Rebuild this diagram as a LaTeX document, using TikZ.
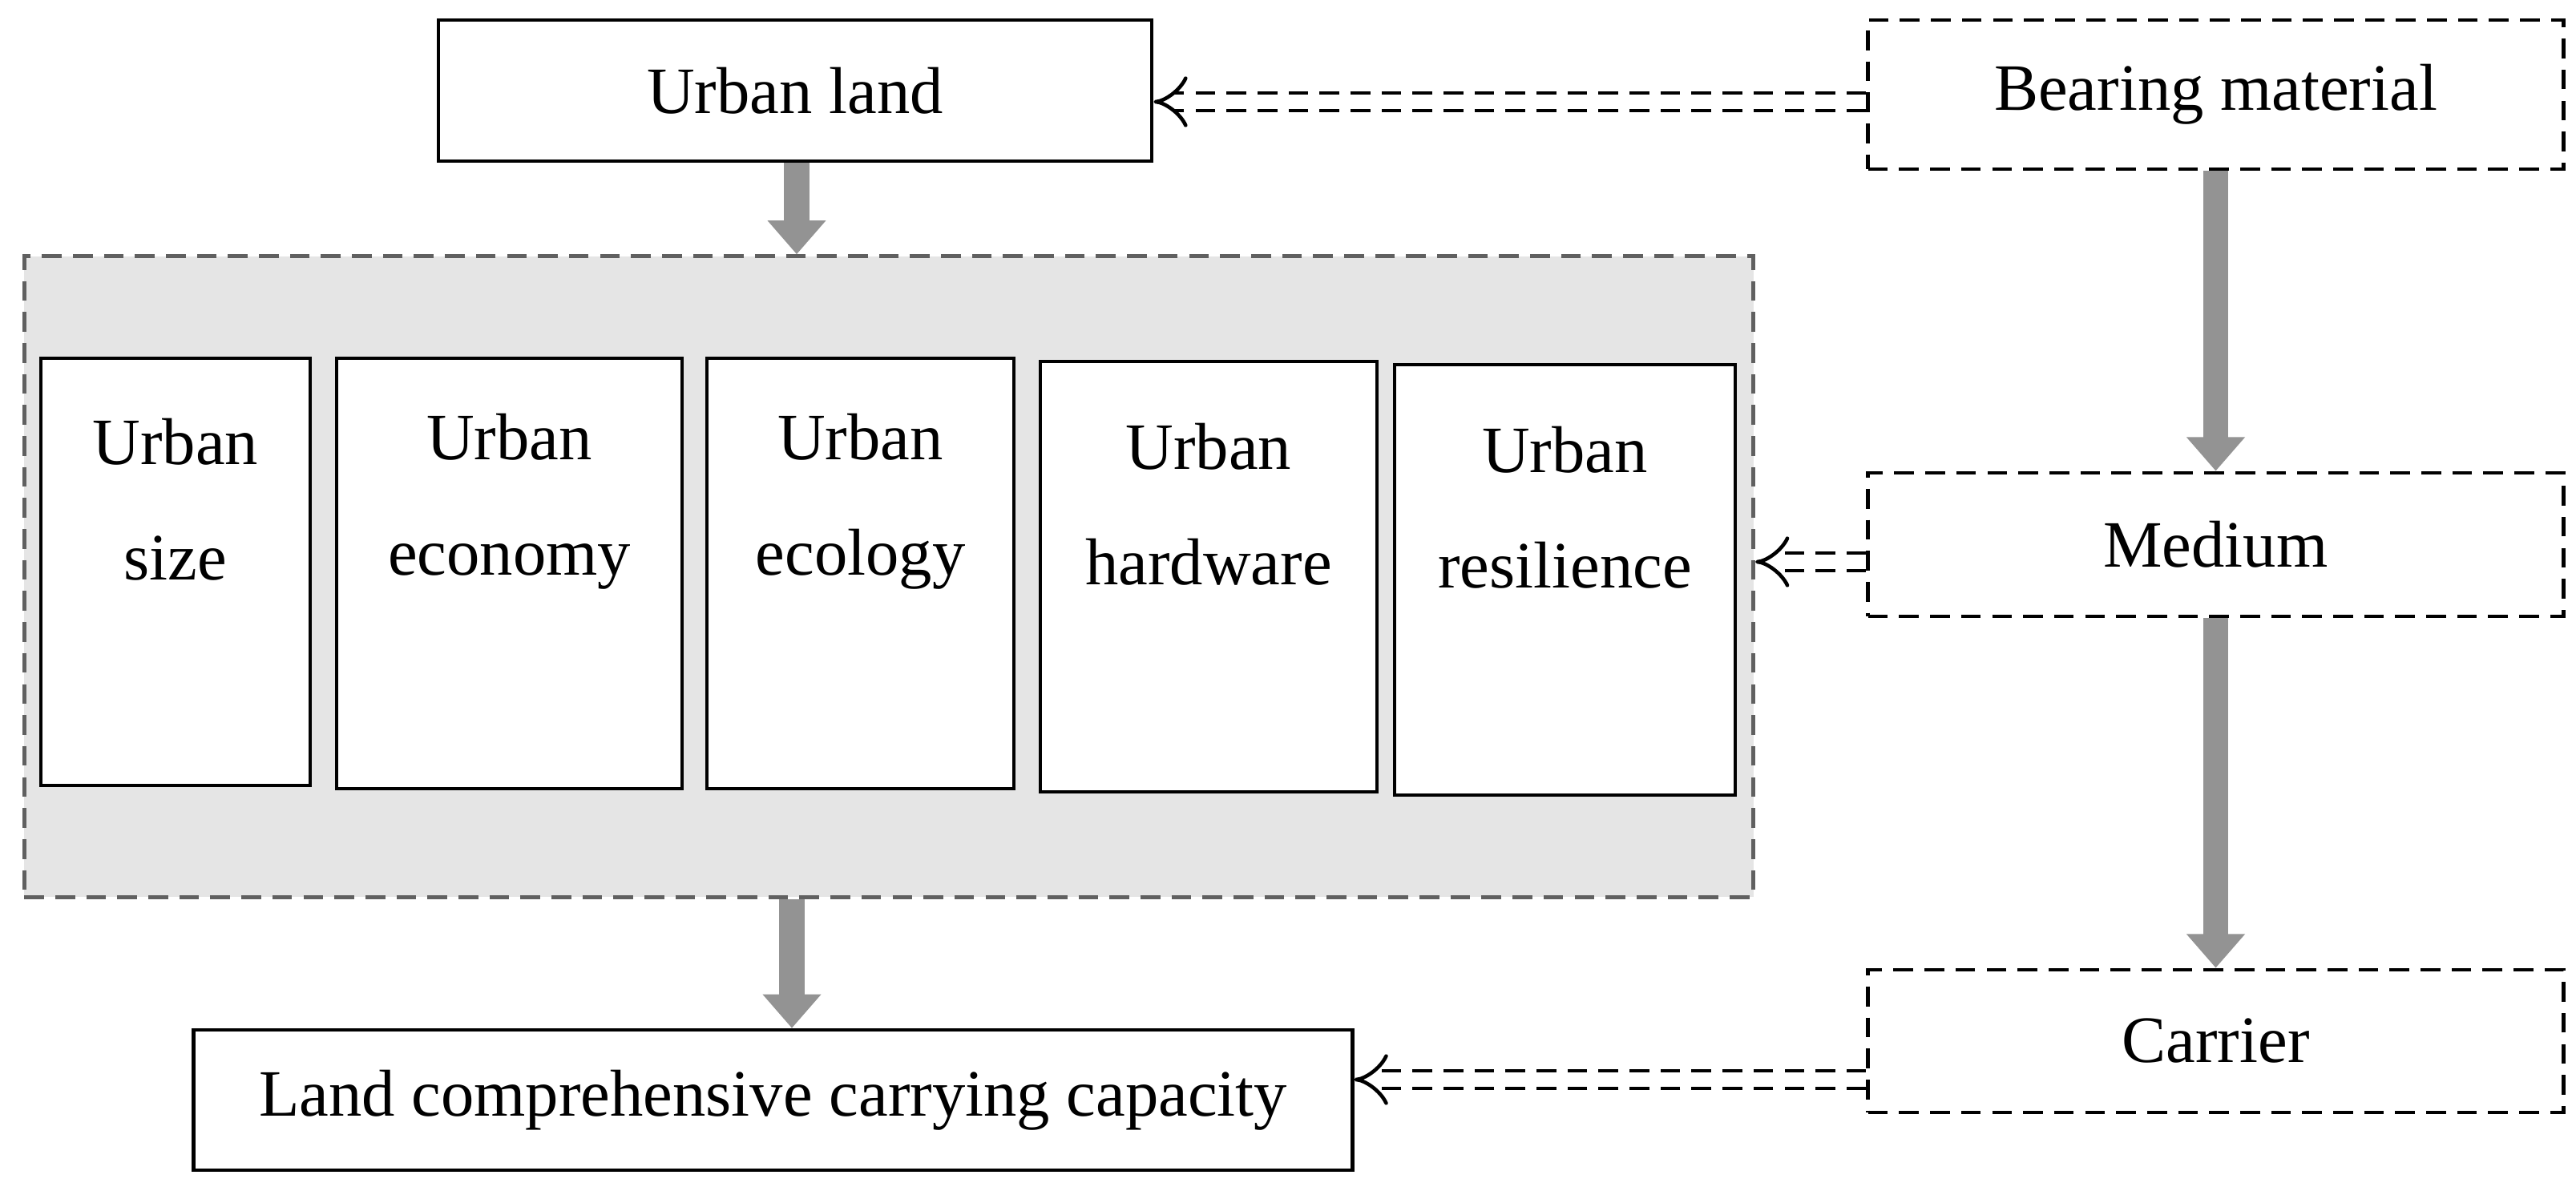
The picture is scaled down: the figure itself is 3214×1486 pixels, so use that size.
\documentclass[tikz,border=0pt]{standalone}
\usepackage{fontspec}
\setmainfont{Liberation Serif}
\usetikzlibrary{arrows.meta}
\begin{document}
\begin{tikzpicture}[x=0.01cm,y=-0.01cm,
  txt/.style={font=\fontsize{23.5}{41}\selectfont, align=center},
  solidbox/.style={draw=black, line width=1.2pt, fill=white, inner sep=0pt},
  dashbox/.style={draw=black, line width=1.3pt, dash pattern=on 7pt off 4pt, inner sep=0pt},
  gray arrow/.style={draw=gray!90!black, line width=9pt, -{Triangle[width=20pt,length=12pt]}, color=gray!85},
  dbl/.style={double=white, double distance=5pt, line width=1.3pt, dash pattern=on 7pt off 4pt, -{Implies}}]
\useasboundingbox (0,0) rectangle (3214,1486);
% container
\node[draw=gray!75!black, line width=1.4pt, dash pattern=on 7pt off 4pt, fill=gray!20, inner sep=0pt, minimum width=21.56cm, minimum height=7.99cm] (cont) at (1109,719.5) {};
% top/bottom boxes
\node[solidbox, txt, minimum width=8.9cm, minimum height=1.76cm] (land) at (992,113) {Urban land};
\node[solidbox, txt, minimum width=14.45cm, minimum height=1.75cm] (cap) at (964.5,1372.5) {Land comprehensive carrying capacity};
\node[dashbox, txt, minimum width=8.67cm, minimum height=1.86cm] (bear) at (2764.5,118) {Bearing material};
\node[dashbox, txt, minimum width=8.67cm, minimum height=1.79cm] (med) at (2764.5,679.5) {Medium};
\node[dashbox, txt, minimum width=8.67cm, minimum height=1.78cm] (car) at (2764.5,1299) {Carrier};
% inner boxes
\node[solidbox, minimum width=3.36cm, minimum height=5.33cm] (s1) at (219,713.5) {};
\node[solidbox, minimum width=4.31cm, minimum height=5.37cm] (s2) at (635.5,715.5) {};
\node[solidbox, minimum width=3.83cm, minimum height=5.37cm] (s3) at (1073.5,715.5) {};
\node[solidbox, minimum width=4.2cm, minimum height=5.37cm] (s4) at (1508,719.5) {};
\node[solidbox, minimum width=4.25cm, minimum height=5.37cm] (s5) at (1952.5,723.5) {};
\node[txt] (t1) at ([yshift=0.9cm]s1.center) {Urban\\size};
\node[txt] (t2) at ([yshift=0.9cm]s2.center) {Urban\\economy};
\node[txt] (t3) at ([yshift=0.9cm]s3.center) {Urban\\ecology};
\node[txt] (t4) at ([yshift=0.9cm]s4.center) {Urban\\hardware};
\node[txt] (t5) at ([yshift=0.9cm]s5.center) {Urban\\resilience};
% gray arrows
\draw[gray arrow] (land.south -| 994,0) -- (cont.north -| 994,0);
\draw[gray arrow] (cont.south -| 988,0) -- (cap.north -| 988,0);
\draw[gray arrow] (bear.south) -- (med.north);
\draw[gray arrow] (med.south) -- (car.north);
% double dashed arrows
\draw[dbl] (bear.west |- 0,127) -- (land.east |- 0,127);
\draw[dbl] (med.west |- 0,701) -- (cont.east |- 0,701);
\draw[dbl] (car.west |- 0,1347) -- (cap.east |- 0,1347);
\end{tikzpicture}
\end{document}
